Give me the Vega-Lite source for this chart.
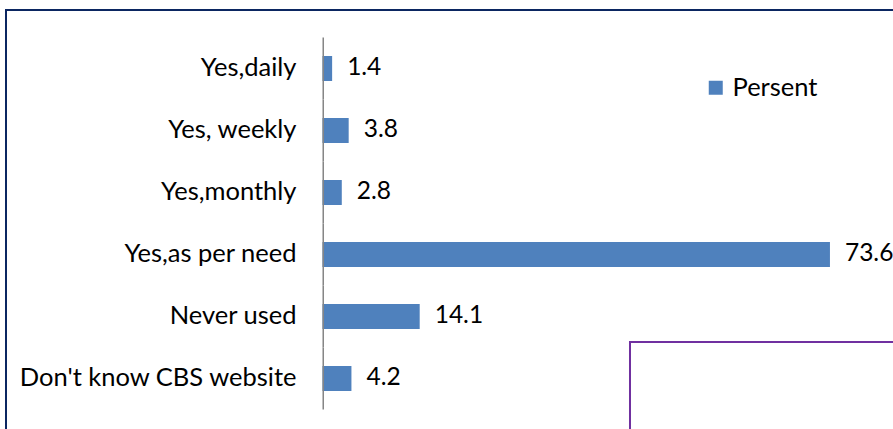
{
  "$schema": "https://vega.github.io/schema/vega-lite/v6.json",
  "width": 900,
  "height": 440,
  "autosize": {"type": "none"},
  "padding": {"left": 6, "top": 10, "right": 0, "bottom": 0},
  "background": "white",
  "config": {
    "view": {"stroke": "#0b2661", "strokeWidth": 2}
  },
  "data": {
    "values": [
      {"answer": "Yes,daily", "value": 1.4, "series": "Persent"},
      {"answer": "Yes, weekly", "value": 3.8, "series": "Persent"},
      {"answer": "Yes,monthly", "value": 2.8, "series": "Persent"},
      {"answer": "Yes,as per need", "value": 73.6, "series": "Persent"},
      {"answer": "Never used", "value": 14.1, "series": "Persent"},
      {"answer": "Don't know CBS website", "value": 4.2, "series": "Persent"}
    ]
  },
  "layer": [
    {
      "mark": {"type": "bar", "color": "#4f81bd"},
      "encoding": {
        "y": {
          "field": "answer",
          "type": "nominal",
          "sort": null,
          "title": null,
          "scale": {
            "paddingInner": 0.597,
            "paddingOuter": 0.847,
            "align": 0.438
          },
          "axis": {
            "ticks": false,
            "domain": false,
            "offset": -290,
            "labelPadding": 0,
            "labelFont": "Lato",
            "labelFontSize": 25.5,
            "labelColor": "#000000",
            "labelLimit": 400
          }
        },
        "x": {
          "field": "value",
          "type": "quantitative",
          "scale": {"domain": [-45.9, 84.63], "nice": false, "zero": false},
          "axis": null
        },
        "color": {
          "field": "series",
          "type": "nominal",
          "scale": {"range": ["#4f81bd"]},
          "legend": {
            "orient": "none",
            "legendX": 697,
            "legendY": 65,
            "title": null,
            "symbolType": "square",
            "symbolSize": 196,
            "labelFont": "Lato",
            "labelFontSize": 25.5,
            "labelColor": "#000000"
          }
        }
      }
    },
    {
      "mark": {"type": "bar", "color": "#868686", "height": {"band": 2.48}},
      "encoding": {
        "y": {"field": "answer", "type": "nominal", "sort": null},
        "x": {"datum": 0, "type": "quantitative"},
        "x2": {"datum": 0.22}
      }
    },
    {
      "mark": {"type": "text", "align": "left", "baseline": "middle", "dx": 15, "font": "Lato", "fontSize": 24.5, "color": "#000000"},
      "encoding": {
        "y": {"field": "answer", "type": "nominal", "sort": null},
        "x": {"field": "value", "type": "quantitative"},
        "text": {"field": "value", "type": "quantitative", "format": ".1f"}
      }
    },
    {
      "data": {"values": [{"x1": 44.6, "x2": 200, "from": "Never used", "to": "Don't know CBS website"}]},
      "mark": {"type": "rect", "fillOpacity": 0, "stroke": "#7030a0", "strokeWidth": 2},
      "encoding": {
        "x": {"field": "x1", "type": "quantitative"},
        "x2": {"field": "x2"},
        "y": {"field": "from", "type": "nominal", "sort": null, "bandPosition": 1.52},
        "y2": {"field": "to", "bandPosition": 5}
      }
    }
  ]
}
